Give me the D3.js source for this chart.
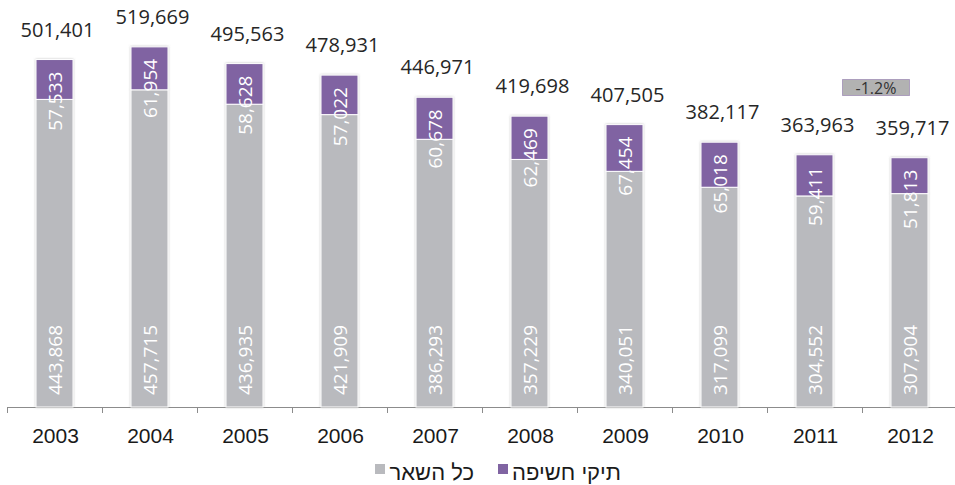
<!DOCTYPE html>
<html>
<head>
<meta charset="utf-8">
<script src="https://cdn.jsdelivr.net/npm/d3@7"></script>
<style>
  body { margin: 0; background: #fff; }
  svg { display: block; }
</style>
</head>
<body>
<div id="chart"></div>
<script>
// DATA
const years = ["2003", "2004", "2005", "2006", "2007", "2008", "2009", "2010", "2011", "2012"];
const otherValues = [443868, 457715, 436935, 421909, 386293, 357229, 340051, 317099, 304552, 307904];
const exposureValues = [57533, 61954, 58628, 57022, 60678, 62469, 67454, 65018, 59411, 51813];
const totals = [501401, 519669, 495563, 478931, 446971, 419698, 407505, 382117, 363963, 359717];
const legendLabels = ["תיקי חשיפה", "כל השאר"];
const changeLabel = "-1.2%";

const W = 955, H = 485;
const AXIS_Y = 407;
const GRAY = "#b9babe", PURPLE = "#8064a2";
const fmt = d3.format(",");

let svg = d3.select("#chart").append("svg")
  .attr("width", W).attr("height", H);

// soft glow round the bars
const defs = svg.append("defs");
defs.append("filter").attr("id", "glow")
  .attr("x", "-20%").attr("y", "-20%").attr("width", "140%").attr("height", "140%")
  .append("feDropShadow")
  .attr("dx", 0).attr("dy", 0).attr("stdDeviation", 1.2)
  .attr("flood-color", "#888").attr("flood-opacity", 0.55);

// SCALES
let x = d3.scaleBand().domain(years).range([7, 957]).paddingInner(0).paddingOuter(0);
let y = d3.scaleLinear().domain([0, 600000]).range([AXIS_Y, AXIS_Y - 600000 * 0.000693]);
const barW = 37;
const cx = d => x(d) + x.bandwidth() / 2;

const rows = years.map((yr, i) => ({
  year: yr, other: otherValues[i], exposure: exposureValues[i], total: totals[i]
}));

// AXIS
svg.append("line")
  .attr("x1", 7).attr("x2", W).attr("y1", AXIS_Y + 0.5).attr("y2", AXIS_Y + 0.5)
  .attr("stroke", "#8c8c8c").attr("stroke-width", 1);
svg.selectAll(".tick-line")
  .data(years)
  .enter().append("line")
  .attr("x1", d => Math.round(x(d)) + 0.5).attr("x2", d => Math.round(x(d)) + 0.5)
  .attr("y1", AXIS_Y).attr("y2", AXIS_Y + 6)
  .attr("stroke", "#8c8c8c");

svg.selectAll(".year")
  .data(years)
  .enter().append("text")
  .attr("x", d => cx(d) + 1)
  .attr("y", 443)
  .attr("text-anchor", "middle")
  .style("font-family", "'Liberation Sans', Arial, sans-serif")
  .style("font-size", "21px")
  .style("fill", "#1a1a1a")
  .text(d => d);

// BARS
let bars = svg.selectAll(".bar")
  .data(rows)
  .enter().append("g")
  .attr("filter", "url(#glow)");

bars.append("rect")
  .attr("x", d => cx(d.year) - barW / 2)
  .attr("y", d => y(d.other))
  .attr("width", barW)
  .attr("height", d => AXIS_Y - y(d.other))
  .attr("fill", GRAY)
  .attr("stroke", "#fff").attr("stroke-width", 1);

bars.append("rect")
  .attr("x", d => cx(d.year) - barW / 2)
  .attr("y", d => y(d.total))
  .attr("width", barW)
  .attr("height", d => y(d.other) - y(d.total))
  .attr("fill", PURPLE)
  .attr("stroke", "#fff").attr("stroke-width", 1);

// LABELS INSIDE BARS
const inner = svg.selectAll(".inner")
  .data(rows)
  .enter().append("g");

inner.append("text")
  .attr("transform", d => `translate(${cx(d.year) + 7}, ${AXIS_Y - 12}) rotate(-90)`)
  .attr("text-anchor", "start")
  .style("font-family", "'Open Sans', sans-serif")
  .style("font-size", "19px")
  .style("fill", "#fff")
  .text(d => fmt(d.other));

inner.append("text")
  .attr("transform", d => `translate(${cx(d.year) + 7}, ${y(d.total) + 12}) rotate(-90)`)
  .attr("text-anchor", "end")
  .style("font-family", "'Open Sans', sans-serif")
  .style("font-size", "19px")
  .style("fill", "#fff")
  .text(d => fmt(d.exposure));

// TOTALS
svg.selectAll(".total")
  .data(rows)
  .enter().append("text")
  .attr("x", d => cx(d.year) + 3)
  .attr("y", d => y(d.total) - 23)
  .attr("text-anchor", "middle")
  .style("font-family", "'Open Sans', sans-serif")
  .style("font-size", "20px")
  .style("fill", "#262626")
  .text(d => fmt(d.total));

// CHANGE BOX
const last = years[years.length - 1];
const box = svg.append("g");
box.append("rect")
  .attr("x", x(last) - 19.5).attr("y", 79.5)
  .attr("width", 67).attr("height", 16)
  .attr("fill", "#b2b2b2")
  .attr("stroke", "#8064a2").attr("stroke-width", 1)
  .attr("stroke-dasharray", "1,1");
box.append("text")
  .attr("x", x(last) + 14).attr("y", 94)
  .attr("text-anchor", "middle")
  .style("font-family", "'Open Sans', sans-serif")
  .style("font-size", "16px")
  .style("fill", "#333")
  .text(changeLabel);

// LEGEND
const legend = svg.append("g").style("font-family", "'Liberation Sans', Arial, sans-serif");
const legendItems = [
  { label: legendLabels[0], color: PURPLE, sq: 498, tx: 621 },
  { label: legendLabels[1], color: GRAY, sq: 375, tx: 474 }
];
legendItems.forEach(it => {
  legend.append("rect")
    .attr("x", it.sq).attr("y", 464).attr("width", 10).attr("height", 10)
    .attr("fill", it.color);
  legend.append("text")
    .attr("x", it.tx).attr("y", 480)
    .attr("text-anchor", "end")
    .style("font-size", "22px")
    .style("fill", "#1a1a1a")
    .text(it.label);
});
</script>
</body>
</html>
